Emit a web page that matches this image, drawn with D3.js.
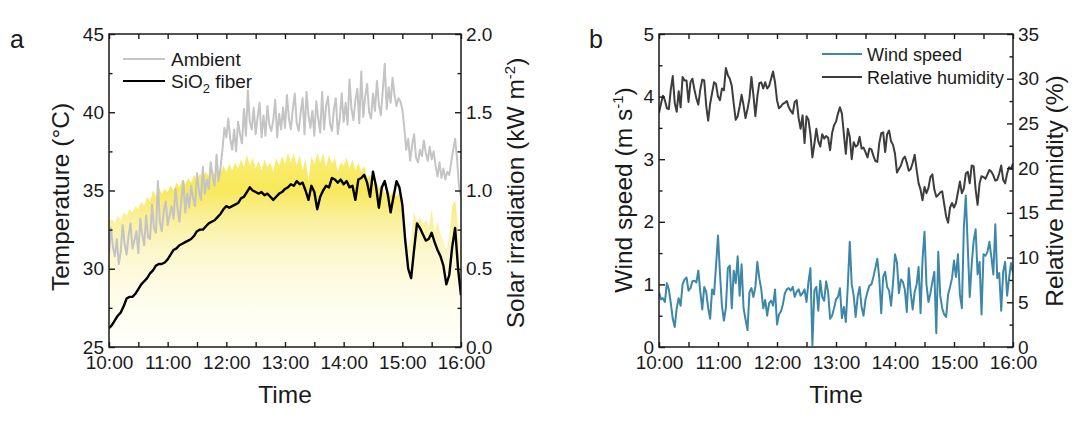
<!DOCTYPE html>
<html>
<head>
<meta charset="utf-8">
<script src="https://cdn.jsdelivr.net/npm/d3@7"></script>
<style>
  body { margin: 0; background: #fff; }
  svg { display: block; font-family: "Liberation Sans", Arial, sans-serif; }
</style>
</head>
<body>
<svg id="chart" width="1089" height="421"></svg>
<script>
// Time axis: minutes after 10:00
const timeLabels = ["10:00", "11:00", "12:00", "13:00", "14:00", "15:00", "16:00"];
const hourTicks = [0, 60, 120, 180, 240, 300, 360];
const halfHourTicks = [30, 90, 150, 210, 270, 330];

// Panel a: ambient every 2 min, fiber and solar every 3 min
const stepAmbient = 2;
const ambient = [
    31.0, 32.6, 31.4, 30.8, 31.9, 30.3, 31.1, 32.8, 31.6, 30.9,
    32.1, 32.9, 31.3, 31.8, 32.4, 31.0, 33.2, 32.2, 31.5, 33.4,
    32.0, 31.9, 34.1, 32.6, 32.3, 35.6, 33.0, 32.4, 33.7, 34.3,
    32.8, 33.4, 34.0, 33.2, 35.1, 33.9, 33.0, 34.4, 35.6, 33.6,
    34.8, 33.9, 35.3, 34.5, 34.0, 36.1, 35.0, 34.4, 36.5, 34.8,
    35.7, 35.1, 36.8, 35.9, 35.3, 37.3, 35.6, 36.4, 37.6, 39.0,
    38.4, 39.6, 38.3, 37.6, 38.9, 37.5, 39.4, 38.6, 38.0, 40.2,
    38.5, 41.4, 39.4, 38.9, 40.3, 38.6, 39.7, 40.6, 38.4, 39.8,
    38.5, 40.4, 39.2, 38.8, 39.5, 40.8, 38.4, 39.9, 38.9, 40.3,
    39.0, 41.1, 39.6, 38.9, 40.2, 41.2, 39.3, 38.8, 40.0, 40.9,
    38.6, 41.3, 39.8, 39.0, 40.1, 38.5, 40.7, 39.6, 38.7, 41.3,
    38.9, 40.4, 41.0, 39.3, 38.8, 40.2, 40.9, 38.6, 39.6, 41.2,
    39.4, 40.6, 39.2, 42.1, 40.2, 39.5, 40.8, 41.5, 39.3, 42.6,
    39.7, 41.0, 41.8, 40.0, 39.6, 41.2, 40.1, 42.0, 40.5, 39.8,
    41.4, 43.1, 40.2, 41.6, 40.6, 42.2, 41.1, 40.4, 40.9, 40.7,
    40.2, 39.0, 37.6, 38.3, 36.9, 37.9, 38.6, 37.1, 36.8, 37.6,
    37.2, 38.2, 37.4, 36.9, 37.8, 37.0, 37.5, 36.6, 35.9, 36.8,
    35.8, 36.4, 35.7, 36.2, 36.0, 36.8, 37.6, 38.3, 37.0, 35.2,
    34.6
];
const stepA = 3;
const fiber = [
    26.2, 26.4, 26.7, 27.0, 27.2, 27.6, 28.1, 28.2, 28.2, 28.4,
    28.7, 29.0, 29.2, 29.4, 29.7, 29.9, 30.2, 30.3, 30.3, 30.4,
    30.6, 30.9, 31.2, 31.3, 31.5, 31.6, 31.7, 31.8, 31.9, 32.1,
    32.4, 32.5, 32.5, 32.7, 32.9, 33.0, 33.1, 33.3, 33.5, 33.8,
    34.0, 33.9, 34.0, 34.1, 34.2, 34.5, 34.6, 34.9, 35.2, 35.0,
    34.9, 34.8, 34.9, 34.7, 34.8, 34.6, 34.4, 34.6, 34.8, 34.9,
    35.1, 35.2, 35.4, 35.3, 35.6, 35.4, 35.5, 35.0, 34.4, 35.3,
    34.9, 33.8, 34.6, 35.0, 35.3, 35.2, 35.8, 35.7, 35.5, 35.7,
    35.4, 35.6, 35.2, 35.3, 34.4, 35.7, 35.8, 36.0, 35.5, 34.6,
    36.2, 35.3, 33.9, 35.2, 35.6, 34.8, 33.6, 34.6, 35.6, 35.2,
    34.1, 31.8, 30.0, 29.4, 31.2, 32.9, 32.6, 32.2, 31.8, 31.9,
    32.3, 31.7, 31.2, 30.8, 30.2, 29.0, 29.6, 31.4, 32.6, 30.0,
    28.3
];
const solar = [
    0.80, 0.82, 0.79, 0.84, 0.81, 0.86, 0.84, 0.88, 0.86, 0.90,
    0.88, 0.93, 0.90, 0.96, 0.93, 1.00, 0.96, 1.02, 0.98, 1.01,
    0.99, 1.03, 1.00, 1.05, 1.02, 1.07, 1.04, 1.08, 1.05, 1.10,
    1.06, 1.11, 1.08, 1.12, 1.09, 1.13, 1.10, 1.14, 1.11, 1.16,
    1.12, 1.17, 1.13, 1.18, 1.14, 1.20, 1.15, 1.23, 1.16, 1.21,
    1.14, 1.19, 1.13, 1.20, 1.15, 1.18, 1.12, 1.21, 1.16, 1.22,
    1.17, 1.24, 1.18, 1.24, 1.16, 1.23, 1.13, 1.20, 1.06, 1.22,
    1.17, 1.24, 1.18, 1.24, 1.15, 1.23, 1.17, 1.21, 1.12, 1.18,
    1.16, 1.21, 1.14, 1.20, 1.13, 1.18, 1.12, 1.16, 1.08, 1.10,
    1.04, 1.06, 1.01, 1.03, 0.98, 1.01, 0.97, 1.00, 0.96, 0.99,
    0.96, 0.72, 0.64, 0.70, 0.86, 0.80, 0.83, 0.78, 0.82, 0.76,
    0.88, 0.74, 0.80, 0.72, 0.68, 0.62, 0.72, 0.90, 0.94, 0.78,
    0.60
];

// Panel b, one reading every 2 min
const stepB = 2;
const windSpeed = [
    0.88, 0.76, 0.78, 0.72, 1.02, 0.92, 0.70, 0.45, 0.32, 0.62,
    0.78, 0.66, 1.00, 1.08, 1.11, 0.90, 0.94, 1.05, 1.06, 1.03,
    1.22, 0.88, 0.60, 0.96, 0.88, 0.62, 0.45, 0.92, 0.84, 1.30,
    1.78, 1.18, 0.66, 0.42, 0.62, 1.26, 1.30, 0.62, 1.22, 1.02,
    1.45, 0.82, 1.32, 0.62, 0.44, 0.27, 0.88, 0.94, 0.80, 0.96,
    1.36, 1.10, 0.92, 0.62, 0.75, 0.50, 0.70, 0.74, 0.66, 0.92,
    0.36, 0.52, 0.57, 0.68, 0.86, 0.92, 0.94, 0.90, 0.96, 0.80,
    0.88, 0.92, 0.82, 0.86, 0.92, 0.72, 1.04, 1.26, 0.03, 0.90,
    0.96, 0.58, 1.06, 0.80, 0.74, 1.05, 0.88, 0.45, 0.50, 0.62,
    0.76, 0.80, 0.94, 0.46, 0.64, 0.40, 0.98, 1.68, 1.00, 0.82,
    0.48, 0.80, 0.96, 0.64, 0.50, 0.76, 0.88, 0.98, 1.00, 1.12,
    1.26, 1.41, 1.10, 0.54, 1.12, 1.20, 0.96, 0.90, 0.66, 1.02,
    1.48, 1.35, 0.86, 1.08, 1.04, 0.92, 0.56, 1.26, 0.86, 0.60,
    0.88, 1.00, 1.28, 0.54, 1.40, 1.84, 1.00, 0.72, 0.86, 1.04,
    1.20, 0.22, 1.52, 0.82, 0.62, 0.52, 0.48, 0.84, 0.96, 1.10,
    1.38, 1.12, 1.48, 0.84, 0.62, 1.90, 2.42, 1.60, 0.80, 1.32,
    1.70, 1.88, 1.16, 1.36, 0.52, 1.48, 1.46, 1.52, 1.68, 1.44,
    1.16, 1.96, 1.10, 1.18, 0.58, 1.20, 1.36, 0.82, 1.10, 1.34,
    1.18
];
const humidity = [
    26.2, 27.2, 28.1, 27.6, 26.7, 26.6, 28.8, 30.3, 27.3, 26.3,
    28.6, 26.8, 30.2, 29.8, 29.8, 27.4, 29.6, 30.0, 28.8, 27.8,
    27.1, 28.8, 29.9, 29.8, 27.0, 25.3, 27.2, 28.4, 29.6, 29.4,
    28.0, 27.6, 28.9, 28.7, 31.2, 30.4, 30.0, 29.2, 27.2, 25.4,
    25.8, 26.9, 28.2, 27.0, 25.6, 26.6, 27.8, 30.2, 28.2, 25.8,
    28.0, 29.5, 29.6, 28.9, 29.6, 28.9, 29.2, 30.0, 30.8, 29.6,
    27.6, 26.7, 26.9, 27.2, 27.3, 27.5, 26.8, 26.4, 26.1, 27.4,
    27.6, 25.6, 24.4, 25.9, 22.8, 25.8, 25.4, 23.8, 21.2, 22.7,
    24.4, 23.0, 22.4, 23.8, 23.3, 23.6, 23.4, 22.0, 23.9, 24.8,
    25.2, 26.1, 26.8, 26.1, 23.8, 21.6, 24.4, 23.5, 21.0, 22.9,
    22.4, 22.6, 23.5, 22.2, 22.3, 21.8, 21.2, 22.2, 22.1, 21.4,
    20.8, 20.7, 22.8, 23.9, 24.0, 21.8, 23.8, 24.2, 23.0, 22.6,
    21.6, 19.5, 19.9, 20.3, 21.0, 21.3, 20.6, 19.7, 19.9, 20.6,
    21.5, 19.8, 18.3, 17.6, 16.4, 17.9, 17.2, 17.8, 19.0, 19.3,
    17.6, 16.8, 17.0, 17.3, 17.4, 16.0, 14.6, 13.9, 15.6, 16.1,
    15.6, 16.1, 17.3, 18.5, 17.2, 17.7, 19.4, 19.6, 18.3, 20.3,
    20.2, 17.6, 15.9, 18.3, 19.1, 19.0, 18.8, 19.3, 19.8, 19.6,
    19.2, 18.6, 18.7, 19.4, 20.3, 18.7, 18.3, 19.4, 20.1, 19.9,
    20.5
];

const tempTicks = [25, 30, 35, 40, 45];
const solarTicks = [0, 0.5, 1.0, 1.5, 2.0];
const windTicks = [0, 1, 2, 3, 4, 5];
const humidityTicks = [0, 5, 10, 15, 20, 25, 30, 35];

const FONT = '"Liberation Sans", Arial, sans-serif';
const INK = "#1a1a1a";
const TITLE = 24.5;
const svg = d3.select("#chart");

// Yellow gradient for the solar irradiation area
const grad = svg.append("defs").append("linearGradient")
    .attr("id", "sun")
    .attr("gradientUnits", "userSpaceOnUse")
    .attr("x1", 0).attr("x2", 0).attr("y1", 150).attr("y2", 347);
[[0, "#f9ee78"], [0.2, "#f8e85a"], [0.35, "#faf09c"], [0.52, "#fcf7cc"], [0.72, "#fefce8"], [1, "#fffffc"]]
    .forEach(s => grad.append("stop").attr("offset", s[0]).attr("stop-color", s[1]));

function styleAxis(g) {
    g.select(".domain").remove();
    g.selectAll("line").attr("stroke", INK).attr("stroke-width", 1.4);
    g.selectAll("text").attr("fill", INK).style("font-size", "19px").style("font-family", FONT);
}

function drawFrame(x, yL, yR, ticksL, ticksR, fmtL, fmtR) {
    const [x0, x1] = x.range();
    const [yb, yt] = yL.range();
    const stepL = ticksL[1] - ticksL[0];
    const stepR = ticksR[1] - ticksR[0];
    const minorL = ticksL.slice(0, -1).map(d => d + stepL / 2);
    const minorR = ticksR.slice(0, -1).map(d => d + stepR / 2);

    // bottom
    svg.append("g").attr("transform", `translate(0,${yb})`)
        .call(d3.axisBottom(x).tickValues(hourTicks).tickFormat((d, i) => timeLabels[i])
            .tickSize(-5).tickSizeOuter(0).tickPadding(9))
        .call(styleAxis);
    svg.append("g").attr("transform", `translate(0,${yb})`)
        .call(d3.axisBottom(x).tickValues(halfHourTicks).tickFormat("").tickSize(-5).tickSizeOuter(0))
        .call(styleAxis);
    // top
    svg.append("g").attr("transform", `translate(0,${yt})`)
        .call(d3.axisTop(x).tickValues(hourTicks.concat(halfHourTicks)).tickFormat("").tickSize(-5).tickSizeOuter(0))
        .call(styleAxis);
    // left
    svg.append("g").attr("transform", `translate(${x0},0)`)
        .call(d3.axisLeft(yL).tickValues(ticksL).tickFormat(fmtL).tickSize(-6).tickSizeOuter(0).tickPadding(5))
        .call(styleAxis);
    svg.append("g").attr("transform", `translate(${x0},0)`)
        .call(d3.axisLeft(yL).tickValues(minorL).tickFormat("").tickSize(-3.5).tickSizeOuter(0))
        .call(styleAxis);
    // right
    svg.append("g").attr("transform", `translate(${x1},0)`)
        .call(d3.axisRight(yR).tickValues(ticksR).tickFormat(fmtR).tickSize(-6).tickSizeOuter(0).tickPadding(5))
        .call(styleAxis);
    svg.append("g").attr("transform", `translate(${x1},0)`)
        .call(d3.axisRight(yR).tickValues(minorR).tickFormat("").tickSize(-3.5).tickSizeOuter(0))
        .call(styleAxis);

    svg.append("rect")
        .attr("x", x0).attr("y", yt)
        .attr("width", x1 - x0).attr("height", yb - yt)
        .attr("fill", "none").attr("stroke", INK).attr("stroke-width", 1.5);
}

function addText(x, y, txt, size, rotate) {
    return svg.append("text")
        .attr("transform", `translate(${x},${y})` + (rotate ? " rotate(-90)" : ""))
        .attr("text-anchor", "middle")
        .attr("fill", INK)
        .style("font-size", size + "px")
        .style("font-family", FONT)
        .text(txt);
}

// ---------- Panel a ----------
const xa = d3.scaleLinear().domain([0, 360]).range([109, 461]);
const yTemp = d3.scaleLinear().domain([25, 45]).range([347, 34]);
const ySolar = d3.scaleLinear().domain([0, 2]).range([347, 34]);

svg.append("clipPath").attr("id", "clipA").append("rect")
    .attr("x", 109).attr("y", 34).attr("width", 352).attr("height", 313);

const ga = svg.append("g").attr("clip-path", "url(#clipA)");

ga.append("path")
    .datum(solar)
    .attr("fill", "url(#sun)")
    .attr("d", d3.area().x((d, i) => xa(i * stepA)).y0(ySolar(0)).y1(d => ySolar(d)));

ga.append("path")
    .datum(ambient)
    .attr("fill", "none")
    .attr("stroke", "#c4c4c4")
    .attr("stroke-width", 2)
    .attr("stroke-linejoin", "round")
    .attr("d", d3.line().x((d, i) => xa(i * stepAmbient)).y(d => yTemp(d)));

ga.append("path")
    .datum(fiber)
    .attr("fill", "none")
    .attr("stroke", "#000")
    .attr("stroke-width", 2.4)
    .attr("stroke-linejoin", "round")
    .attr("d", d3.line().x((d, i) => xa(i * stepA)).y(d => yTemp(d)));

drawFrame(xa, yTemp, ySolar, tempTicks, solarTicks, d3.format("d"), d3.format(".1f"));

// legend a
const legendA = [
    { label: "Ambient", color: "#c4c4c4", y: 59 },
    { label: "SiO", sub: "2", tail: " fiber", color: "#000", y: 81 }
];
legendA.forEach(d => {
    svg.append("line").attr("x1", 123).attr("x2", 165).attr("y1", d.y).attr("y2", d.y)
        .attr("stroke", d.color).attr("stroke-width", 2.2);
    const t = svg.append("text").attr("x", 171).attr("y", d.y + 6.5)
        .attr("fill", INK).style("font-size", "19px").style("font-family", FONT)
        .text(d.label);
    if (d.sub) {
        t.append("tspan").attr("dy", 5).style("font-size", "13px").text(d.sub);
        t.append("tspan").attr("dy", -5).text(d.tail);
    }
});

addText(69, 197, "Temperature (°C)", TITLE, true);
const solarTitle = addText(524, 193, "Solar irradiation (kW m", TITLE, true);
solarTitle.append("tspan").attr("dy", -9).style("font-size", "15px").text("-2");
solarTitle.append("tspan").attr("dy", 9).text(")");
addText(285, 403, "Time", TITLE, false);
svg.append("text").attr("x", 10).attr("y", 48).attr("fill", INK)
    .style("font-size", "25px").style("font-family", FONT).text("a");

// ---------- Panel b ----------
const xb = d3.scaleLinear().domain([0, 360]).range([659, 1013]);
const yWind = d3.scaleLinear().domain([0, 5]).range([347, 34]);
const yHum = d3.scaleLinear().domain([0, 35]).range([347, 34]);

svg.append("clipPath").attr("id", "clipB").append("rect")
    .attr("x", 659).attr("y", 34).attr("width", 354).attr("height", 313);

const gb = svg.append("g").attr("clip-path", "url(#clipB)");

gb.append("path")
    .datum(humidity)
    .attr("fill", "none")
    .attr("stroke", "#3d3d3d")
    .attr("stroke-width", 2)
    .attr("stroke-linejoin", "round")
    .attr("d", d3.line().x((d, i) => xb(i * stepB)).y(d => yHum(d)));

gb.append("path")
    .datum(windSpeed)
    .attr("fill", "none")
    .attr("stroke", "#3d87a8")
    .attr("stroke-width", 2)
    .attr("stroke-linejoin", "round")
    .attr("d", d3.line().x((d, i) => xb(i * stepB)).y(d => yWind(d)));

drawFrame(xb, yWind, yHum, windTicks, humidityTicks, d3.format("d"), d3.format("d"));

const legendB = [
    { label: "Wind speed", color: "#3d87a8", y: 54 },
    { label: "Relative humidity", color: "#3d3d3d", y: 77 }
];
legendB.forEach(d => {
    svg.append("line").attr("x1", 822).attr("x2", 862).attr("y1", d.y).attr("y2", d.y)
        .attr("stroke", d.color).attr("stroke-width", 2);
    svg.append("text").attr("x", 867).attr("y", d.y + 6.5)
        .attr("fill", INK).style("font-size", "18px").style("font-family", FONT)
        .text(d.label);
});

const windTitle = addText(632, 190, "Wind speed (m s", TITLE, true);
windTitle.append("tspan").attr("dy", -9).style("font-size", "15px").text("-1");
windTitle.append("tspan").attr("dy", 9).text(")");
addText(1063, 191, "Relative humidity (%)", TITLE, true);
addText(836, 403, "Time", TITLE, false);
svg.append("text").attr("x", 589).attr("y", 48).attr("fill", INK)
    .style("font-size", "25px").style("font-family", FONT).text("b");
</script>
</body>
</html>
